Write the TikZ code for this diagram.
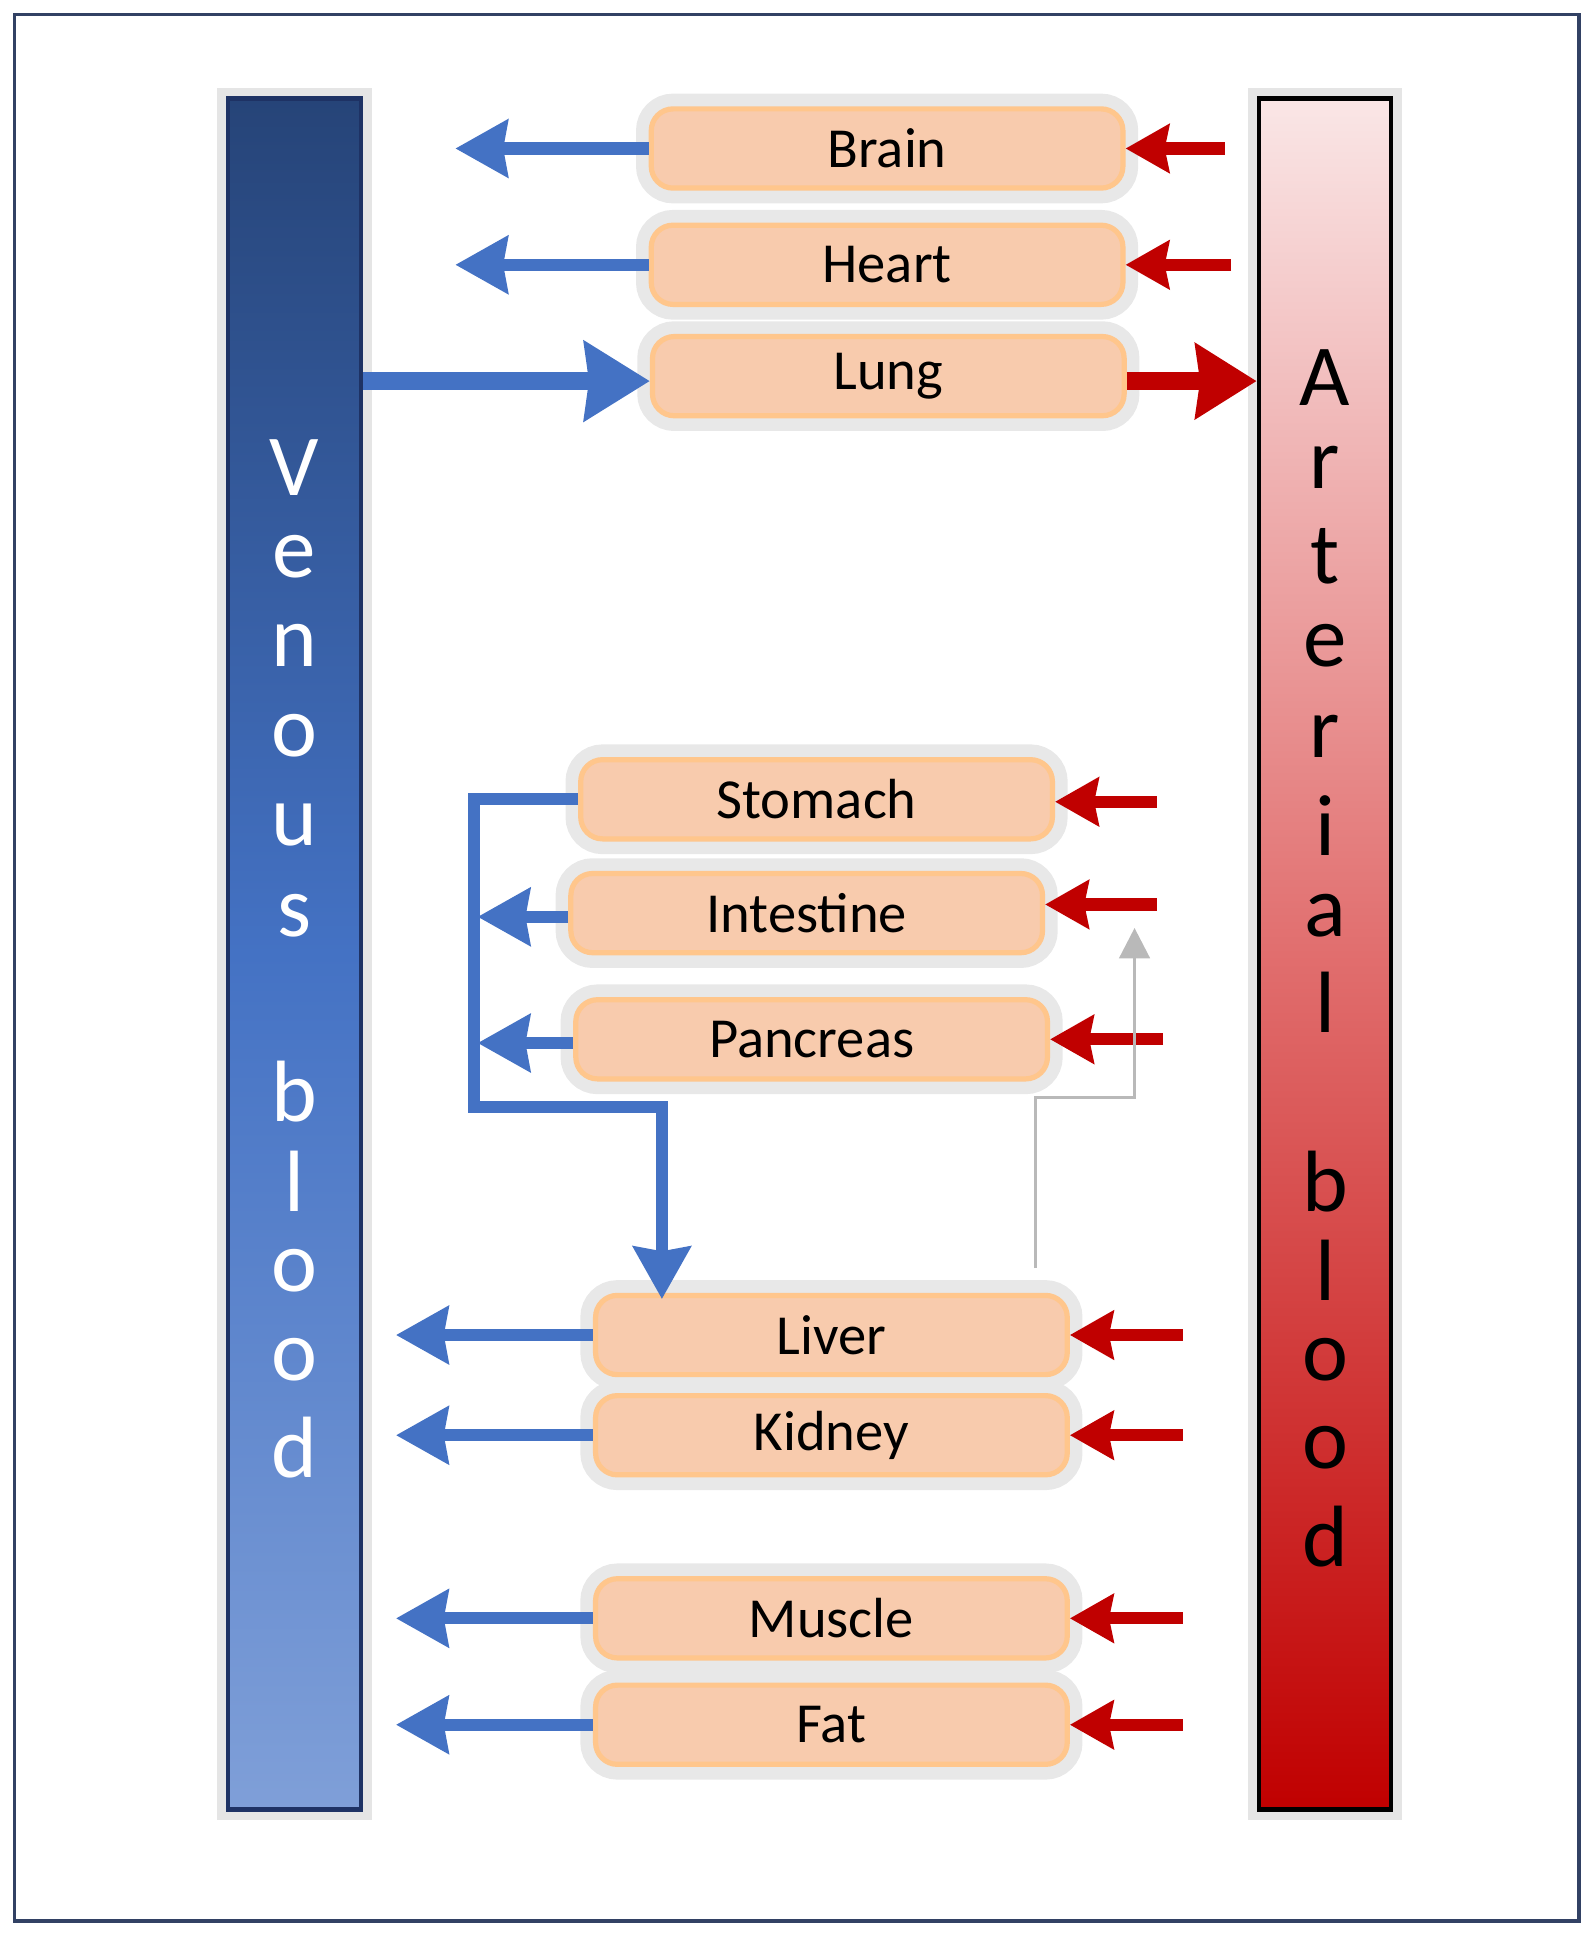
\documentclass[tikz,border=0pt]{standalone}
\usepackage{fontspec}
\setmainfont{Carlito}
\usetikzlibrary{arrows.meta}
\definecolor{vb}{HTML}{4472C4}
\definecolor{ar}{HTML}{C00000}
\begin{document}
\begin{tikzpicture}[x=0.01cm,y=-0.01cm,
 organ/.style={draw=orange!45!white, line width=1.2pt, fill={rgb,255:red,248;green,203;blue,173}, rounded corners=5pt, minimum width=3.81cm, minimum height=0.64cm, font=\fontsize{13}{15}\selectfont, preaction={draw=gray!18, line width=7pt}},
 barl/.style={font=\fontsize{20}{22}\selectfont},
 bl/.style={draw=vb, line width=2.8pt, -{Stealth[inset=1pt,length=12pt,width=13pt]}},
 blb/.style={draw=vb, line width=4pt, -{Stealth[inset=1pt,length=15pt,width=18pt]}},
 rd/.style={draw=ar, line width=2.8pt, -{Stealth[inset=1pt,length=10pt,width=11pt]}},
 rdb/.style={draw=ar, line width=4pt, -{Stealth[inset=1pt,length=14pt,width=17pt]}}]
\useasboundingbox (0,0) rectangle (1288,1568);
\node[draw={rgb,255:red,50;green,65;blue,100}, line width=0.8pt, minimum width=12.64cm, minimum height=15.4cm] (frame) at (644,782) {};
\node[draw={rgb,255:red,30;green,50;blue,100}, line width=1pt, top color={rgb,255:red,38;green,68;blue,120}, bottom color={rgb,255:red,127;green,159;blue,216}, middle color=vb, minimum width=1.07cm, minimum height=13.82cm, preaction={draw=gray!20,line width=5pt}] (ven) at (238,771) {};
\node[draw=black, line width=1pt, top color={rgb,255:red,250;green,230;blue,230}, bottom color=ar, middle color={rgb,255:red,225;green,110;blue,110}, minimum width=1.07cm, minimum height=13.82cm, preaction={draw=gray!20,line width=5pt}] (art) at (1071,771) {};
\foreach \c/\y [count=\i] in {V/378,e/450,n/522,o/595,u/667,s/740,b/882,l/955,o/1027,o/1099,d/1170}
  \node[barl, white] (v\i) at (238,\y) {\c};
\foreach \c/\y [count=\i] in {A/305,r/378,t/450,e/522,r/595,i/667,a/740,l/810,b/955,l/1027,o/1099,o/1170,d/1242}
  \node[barl, black] (a\i) at (1071,\y) {\c};
\node[organ] (brain) at (717,120) {Brain};
\node[organ] (heart) at (717,214) {Heart};
\node[organ] (lung) at (718,304) {Lung};
\node[organ] (stomach) at (660,646) {Stomach};
\node[organ] (intestine) at (652,738) {Intestine};
\node[organ] (pancreas) at (656,840) {Pancreas};
\node[organ] (liver) at (672,1079) {Liver};
\node[organ] (kidney) at (672,1160) {Kidney};
\node[organ] (muscle) at (672,1308) {Muscle};
\node[organ] (fat) at (672,1394) {Fat};
% blue outflows
\coordinate (bb) at (368,120); \coordinate (hb) at (368,214);
\draw[bl] (brain.west) -- (bb);
\draw[bl] (heart.west) -- (hb);
\draw[blb] (ven.east |- 0,308) -- (lung.west |- 0,308);
\foreach \n in {liver,kidney,muscle,fat}{
  \coordinate (\n b) at (320,0);
  \draw[bl] (\n.west) -- (\n b |- \n.west);
}
\draw[draw=vb, line width=2.8pt, -{Stealth[inset=1pt,length=12pt,width=13pt]}] (stomach.west) -- (383,646) -- (383,895) -- (535,895) -- (535,1050);
\coordinate (ib) at (386,741); \coordinate (pb) at (386,843);
\draw[bl] (intestine.west |- ib) -- (ib);
\draw[bl] (pancreas.west |- pb) -- (pb);
% red inflows
\coordinate (rb) at (990,120); \coordinate (rh) at (995,214);
\draw[rd] (rb) -- (brain.east |- rb);
\draw[rd] (rh) -- (heart.east |- rh);
\draw[rdb] (lung.east |- 0,308) -- (art.west |- 0,308);
\coordinate (rs) at (935,648); \coordinate (ri) at (935,731); \coordinate (rp) at (940,840);
\draw[rd] (rs) -- (stomach.east |- rs);
\draw[rd] (ri) -- (intestine.east |- ri);
\draw[rd] (rp) -- (pancreas.east |- rp);
\foreach \n in {liver,kidney,muscle,fat}{
  \coordinate (r\n) at (956,0);
  \draw[rd] (r\n |- \n.east) -- (\n.east);
}
% gray line
\coordinate (g0) at (837,1025); \coordinate (g1) at (917,750);
\draw[gray!55, line width=0.8pt, -{Triangle[length=7pt,width=7pt]}] (g0) -- (837,887) -- (917,887) -- (g1);
\end{tikzpicture}
\end{document}
